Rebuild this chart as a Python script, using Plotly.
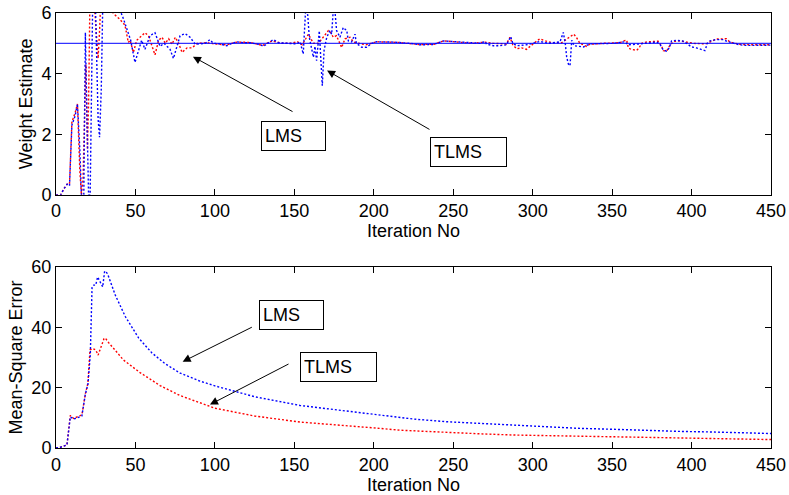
import plotly.graph_objects as go
from plotly.subplots import make_subplots

# ---- weight estimate (upper panel) ----
true_weight = 5.0

w_lms_iter = [0, 3, 5, 7, 8.5, 10, 12, 13.5, 15, 16, 17.5, 18.5, 19.5, 20.5, 21.5, 23.5,
              24.5, 26.5, 27.4, 28.5, 30, 31, 34, 38, 41, 42.5, 44.4, 46, 47, 49.7, 51.8,
              53.9, 56, 59.2, 62.3, 65.5, 68, 71.8, 73.9, 76, 78.1, 81.3, 84.4, 87.6, 91,
              94, 96.9, 99, 103.2, 107.4, 110, 113.7, 118, 122.1, 128.4, 130.5, 134.7,
              136.8, 140, 147.3, 151.5, 153.6, 155.6, 157.3, 158.5, 159.4, 160.9, 162, 163,
              164, 165.7, 166.5, 167.6, 168.7, 170.4, 172.4, 173.5, 174.5, 175.5, 176.6,
              178.7, 180.8, 183, 184, 186, 188.2, 189, 192.4, 195.5, 198.7, 201.8, 212,
              222.8, 229.1, 237.5, 243.8, 252.6, 258.5, 266.9, 270.1, 271, 275.3, 279.3,
              283.5, 286.2, 287.5, 289.9, 296.1, 300.3, 304.5, 310, 317.2, 319.3, 320.5,
              321.4, 322.5, 323.5, 324.6, 326, 331.9, 336, 350.8, 358, 360, 367.6, 378,
              380, 382.2, 384.3, 386, 387.4, 390.6, 394.8, 397, 400, 403, 406.3, 408.4,
              410, 411.6, 415, 420, 422, 426.3, 430, 434.7, 450]
w_lms_val = [0, 0, 0.2, 0.35, 0.3, 2.3, 2.6, 3.0, 1.5, 0, 0, 5.35, 2.5, 0, 0, 8,
             7, 2.5, 1.9, 3.5, 8, 7, 6.1, 6.05, 6.0, 5.8, 5.5, 5.3, 5.1, 4.37, 4.7,
             5.1, 4.8, 5.25, 5.35, 4.9, 5.0, 4.8, 4.5, 4.9, 5.25, 5.32, 5.2, 4.97, 4.98,
             5.0, 5.12, 5.0, 4.98, 4.92, 4.98, 5.05, 5.02, 5.02, 4.96, 4.9, 5.05,
             5.12, 5.02, 5.0, 4.98, 5.05, 4.65, 6.3, 5.9, 5.2, 4.76, 4.54, 4.9,
             4.43, 5.41, 4.43, 3.6, 4.76, 5.2, 5.42, 5.3, 6.1, 6.1, 5.42,
             5.2, 5.52, 5.42, 5.08, 5.05, 5.3, 5.0, 4.87, 4.87, 5.0, 5.05, 5.04,
             5.0, 4.95, 4.96, 5.08, 5.05, 5.02, 5.0, 5.06, 4.97, 4.92, 4.92,
             4.95, 5.22, 5.0, 4.92, 4.95, 5.0, 5.06, 5.0, 5.05, 5.36, 5.0,
             4.55, 4.31, 4.26, 5.1, 4.92, 4.88, 4.98, 5.0, 5.05, 4.95, 4.98, 5.04,
             4.98, 4.78, 4.74, 4.85, 5.08, 5.1, 5.07, 5.0, 4.88, 4.85, 4.8, 4.76,
             5.0, 5.08, 5.12, 5.12, 5.07, 5.0, 4.95, 4.93, 4.94]

w_tlms_iter = [0, 3, 5, 7, 8.5, 10, 12, 13.5, 15, 16, 17, 18.8, 19.8, 20.5, 21.5, 23,
               24.5, 26.5, 27.5, 28.6, 31, 34, 36, 37, 40, 43.4, 45.5, 46.6, 48.7, 50.8,
               52.9, 56, 58.2, 60, 62.3, 64.6, 66.7, 68.8, 70.9, 73, 75.1, 77.2, 79.3,
               82.5, 85.7, 88.8, 95, 100, 107, 114, 122, 130, 136, 142, 148, 152, 155,
               158.8, 160, 162, 165.2, 167.3, 169.4, 171.4, 172.4, 174.5, 176.5, 178.7,
               179.8, 181.9, 185.1, 187.2, 190.3, 195, 201.8, 215, 229, 238, 244, 253,
               262, 270, 275, 283.5, 285.7, 287.5, 289.9, 293, 296.1, 300.3, 304.5, 308,
               312, 318.2, 321.4, 324.6, 325.8, 327.5, 329.7, 333.9, 336, 345, 355, 357,
               359.2, 360.2, 362, 365.5, 367, 368.6, 372, 379, 381.2, 382.2, 384.3, 386,
               388.5, 392.7, 397, 401.1, 409, 413.5, 415.6, 421.9, 424.2, 430, 436.6, 450]
w_tlms_val = [0, 0, 0.2, 0.35, 0.35, 2.4, 2.7, 3.0, 0.8, 0, 0.5, 4.3, 1.5, 3, 7, 8,
              6, 4.5, 5.5, 7, 7, 6.2, 6.0, 5.94, 5.8, 5.6, 5.03, 5.1, 4.7, 5.1,
              5.2, 5.35, 5.25, 5.0, 4.62, 5.1, 5.2, 5.0, 5.15, 4.97, 5.2, 5.0, 4.7,
              4.85, 4.85, 5.0, 5.02, 4.98, 4.95, 5.04, 5.03, 4.93, 5.08, 5.0, 5.0, 5.05, 4.95,
              5.3, 5.2, 5.0, 5.0, 5.15, 5.3, 5.42, 5.4, 5.2, 5.25, 5.0,
              4.86, 5.15, 5.2, 5.04, 5.0, 4.95, 5.05, 5.03, 4.96, 4.97, 5.08, 5.04,
              5.0, 5.04, 5.0, 4.98, 5.2, 4.95, 4.82, 4.85, 4.8, 4.98, 5.15, 5.08,
              5.02, 5.02, 5.14, 5.25, 5.3, 5.2, 5.0, 4.9, 4.97, 5.0, 5.02, 5.08,
              5.1, 4.85, 4.8, 4.77, 4.85, 5.0, 5.05, 5.07, 4.9, 4.76, 4.74, 4.9,
              5.06, 5.08, 5.04, 5.0, 4.98, 5.08, 5.14, 5.15, 5.04, 4.97, 4.95, 4.95]

# ---- mean-square error (lower panel) ----
mse_lms_iter = [0, 3, 6.9, 9, 11.1, 14.2, 16.3, 18.5, 20.1, 21.6, 22.7, 23.7, 25, 26.2,
                27.9, 29.4, 30.6, 31.5, 32.7, 37.3, 43.6, 52, 60.4, 68.8, 78.2, 90, 100,
                125, 153.6, 180, 195.5, 204, 216.5, 225, 246, 267, 288, 309, 330, 351,
                372, 393, 414, 430, 450]
mse_lms_val = [0, 0.3, 1.0, 10.3, 9.6, 10.3, 10.6, 17.9, 21.2, 31, 53.4, 54, 54, 56.7,
               55, 53.4, 58.6, 58.5, 57.4, 50.7, 43.6, 36.5, 31.5, 27.9, 24.8, 22.3, 20.6,
               17, 14.1, 12.5, 11.4, 10.8, 10.1, 9.6, 8.7, 8.1, 7.5, 6.9, 6.5, 6.2,
               5.8, 5.5, 5.3, 5.0, 4.8]

mse_tlms_iter = [0, 3, 6.9, 9, 11.1, 14.2, 16.3, 18.5, 20.1, 21.4, 23, 25, 26.5, 28,
                 30.2, 31, 33, 36, 40, 42.4, 52.9, 65.5, 78, 90.6, 100, 125, 153.6, 180,
                 195.5, 204, 216.5, 246, 267, 288, 309, 330, 351, 372, 393, 414, 430, 450]
mse_tlms_val = [0, 0.3, 1.0, 10.8, 9.8, 10.6, 11.0, 18, 21.5, 32.5, 33, 32.5, 30.8, 33,
                36.2, 36.5, 35, 33.2, 30.5, 29.2, 25, 20.7, 17.4, 14.9, 13.2, 10.6, 8.6, 7.5,
                6.7, 6.5, 5.9, 5.1, 4.7, 4.3, 4.1, 3.7, 3.5, 3.4, 3.2, 3.0, 2.8, 2.8]

x_ticks = [0, 50, 100, 150, 200, 250, 300, 350, 400, 450]
w_ticks = [0, 2, 4, 6]
mse_ticks = [0, 20, 40, 60]

RED = "rgb(255,0,0)"
BLUE = "rgb(0,0,255)"
DOT = "2px,2px"
FONT = "Liberation Sans, Arial, sans-serif"
FS = 18

fig = make_subplots(rows=2, cols=1, vertical_spacing=0.17)

fig.add_trace(go.Scatter(x=w_tlms_iter, y=w_tlms_val, mode="lines",
                         line=dict(color=RED, width=1.4, dash=DOT)), row=1, col=1)
fig.add_trace(go.Scatter(x=w_lms_iter, y=w_lms_val, mode="lines",
                         line=dict(color=BLUE, width=1.4, dash=DOT)), row=1, col=1)
fig.add_trace(go.Scatter(x=[0, 450], y=[true_weight, true_weight], mode="lines",
                         line=dict(color=BLUE, width=1)), row=1, col=1)

fig.add_trace(go.Scatter(x=mse_tlms_iter, y=mse_tlms_val, mode="lines",
                         line=dict(color=RED, width=1.4, dash=DOT)), row=2, col=1)
fig.add_trace(go.Scatter(x=mse_lms_iter, y=mse_lms_val, mode="lines",
                         line=dict(color=BLUE, width=1.4, dash=DOT)), row=2, col=1)

axis_style = dict(showline=True, linecolor="black", linewidth=1, mirror="ticks",
                  ticks="inside", ticklen=6, tickwidth=1, tickcolor="black",
                  showgrid=False, zeroline=False, automargin=False,
                  tickfont=dict(family=FONT, size=FS, color="black"))

for r in (1, 2):
    fig.update_xaxes(range=[0, 450], tickvals=x_ticks, row=r, col=1,
                     title=dict(text="Iteration No", standoff=2,
                                font=dict(family=FONT, size=FS, color="black")),
                     **axis_style)
fig.update_yaxes(range=[0, 6], tickvals=w_ticks, row=1, col=1,
                 title=dict(text="Weight Estimate", standoff=4,
                            font=dict(family=FONT, size=FS, color="black")),
                 **axis_style)
fig.update_yaxes(range=[0, 60], tickvals=mse_ticks, row=2, col=1,
                 title=dict(text="Mean-Square Error", standoff=4,
                            font=dict(family=FONT, size=FS, color="black")),
                 **axis_style)

fig.update_layout(yaxis=dict(domain=[0.582, 1.0]), yaxis2=dict(domain=[0.0, 0.416]),
                  xaxis=dict(anchor="y"), xaxis2=dict(anchor="y2"))


def label_box(text, x, y, xref, yref, w):
    fig.add_annotation(x=x, y=y, xref=xref, yref=yref, text=text, showarrow=False,
                       align="left", width=w, height=22, borderpad=3, borderwidth=1,
                       bordercolor="black", bgcolor="white",
                       font=dict(family=FONT, size=FS, color="black"))


def pointer(x0, y0, x1, y1, xref, yref):
    fig.add_annotation(x=x1, y=y1, ax=x0, ay=y0, xref=xref, yref=yref,
                       axref=xref, ayref=yref, text="", showarrow=True,
                       arrowhead=2, arrowsize=1.6, arrowwidth=1, arrowcolor="black")


label_box("LMS", 149.5, 1.94, "x", "y", 57)
pointer(149.8, 2.72, 86.2, 4.56, "x", "y")
label_box("TLMS", 259.9, 1.41, "x", "y", 69)
pointer(236.0, 2.13, 170.6, 4.1, "x", "y")

label_box("LMS", 148.3, 44.2, "x2", "y2", 57)
pointer(124.2, 40.3, 79.7, 28.6, "x2", "y2")
label_box("TLMS", 177.7, 26.9, "x2", "y2", 69)
pointer(147.3, 28.1, 96.9, 14.4, "x2", "y2")

fig.update_layout(width=789, height=495, showlegend=False,
                  margin=dict(l=56, r=18, t=13, b=47),
                  plot_bgcolor="white", paper_bgcolor="white",
                  font=dict(family=FONT, size=FS, color="black"))

fig.write_html("out.html")
